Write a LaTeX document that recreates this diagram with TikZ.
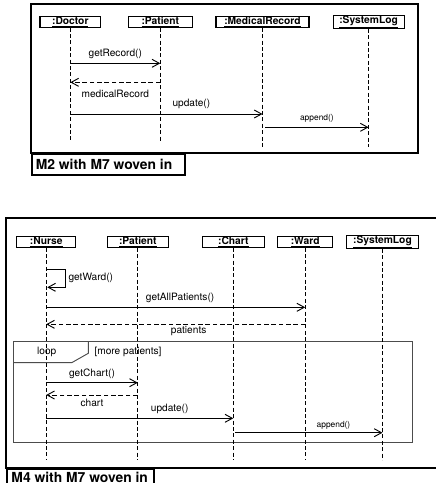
\documentclass[tikz,border=0pt]{standalone}
\usepackage{fontspec}
\setmainfont{TeX Gyre Heros}
\usetikzlibrary{arrows.meta}
\tikzset{
  head/.style={draw, line width=0.8pt, inner sep=0pt, minimum height=7.6pt,
    font=\bfseries\fontsize{7.7}{9}\selectfont},
  life/.style={line width=0.6pt, dash pattern=on 3pt off 1.8pt},
  msg/.style={line width=0.7pt, -{Straight Barb[length=5.5pt,width=6pt,line width=0.7pt]}},
  ret/.style={msg, dash pattern=on 3.5pt off 2pt},
  lbl/.style={inner sep=0pt, font=\fontsize{7.6}{9}\selectfont},
  slbl/.style={inner sep=0pt, font=\fontsize{6.3}{8}\selectfont},
  frame/.style={line width=1.5pt},
  tag/.style={draw, line width=1.2pt, inner ysep=0pt, anchor=north west,
    font=\bfseries\fontsize{10.4}{12}\selectfont},
  loopframe/.style={draw=black!70, line width=0.7pt}
}
\begin{document}
\begin{tikzpicture}[x=0.75pt, y=-0.75pt]
\clip (0,0) rectangle (436,483);
\fill[white] (0,0) rectangle (436,483);

% ---------- top diagram ----------
\draw[frame] (31,4.3) rectangle (417.7,153.3);
\node[tag, inner xsep=3pt, minimum height=15.7pt] (t1) at (31,153.3) {\makebox[109pt][l]{M2 with M7 woven in}};

\node[head, minimum width=45.5pt] (d) at (70.3,22) {\underline{:Doctor}};
\node[head, minimum width=48pt] (p) at (160.3,22) {\underline{:Patient}};
\node[head, minimum width=69.75pt] (m) at (262.5,22) {\underline{:MedicalRecord}};
\node[head, minimum width=53.25pt] (s) at (368.6,22) {\underline{:SystemLog}};

\coordinate (dE) at (70.3,142);
\coordinate (pE) at (160.3,142);
\coordinate (mE) at (262.5,147);
\coordinate (sE) at (368.6,147);
\draw[life] (d.south) -- (dE);
\draw[life] (p.south) -- (pE);
\draw[life] (m.south) -- (mE);
\draw[life] (s.south) -- (sE);

\draw[msg] (d.south |- 0,63.3) -- node[lbl, yshift=7pt]{getRecord()} (p.south |- 0,63.3);
\draw[ret] (p.south |- 0,82.3) -- node[lbl, yshift=-9pt]{medicalRecord} (d.south |- 0,82.3);
\draw[msg] (d.south |- 0,114) -- node[lbl, pos=0.63, yshift=7.3pt]{update()} (m.south |- 0,114);
\draw[msg] ([xshift=2pt]m.south |- 0,127.3) -- node[slbl, yshift=6.5pt]{append()} (s.south |- 0,127.3);

% ---------- bottom diagram ----------
\draw[frame] (6,218.3) rectangle (445,468.3);
\node[tag, inner xsep=3.5pt, minimum height=12pt] (t2) at (6,468.3) {\makebox[103.25pt][l]{M4 with M7 woven in}};

% loop fragment
\draw[loopframe] (13.5,341.7) rectangle (412.3,442.3);
\draw[loopframe] (88.3,341.7) -- (88.3,353.3) -- (71.7,362.7) -- (13.5,362.7);
\node[lbl] (lp) at (46.7,352.4) {loop};
\node[lbl, anchor=west] (gd) at (94.3,352) {[more patients]};

\node[head, minimum width=44.25pt] (n) at (46.2,242) {\underline{:Nurse}};
\node[head, minimum width=45.75pt] (bp) at (137.8,242) {\underline{:Patient}};
\node[head, minimum width=46.5pt] (c) at (233.3,242) {\underline{:Chart}};
\node[head, minimum width=41.5pt] (w) at (305.2,242) {\underline{:Ward}};
\node[head, minimum width=53.7pt] (bs) at (382.5,242) {\underline{:SystemLog}};

\coordinate (nE) at (46.2,460);
\coordinate (bpE) at (137.8,460);
\coordinate (cE) at (233.3,460);
\coordinate (wE) at (305.2,460);
\coordinate (bsE) at (382.5,460);
\draw[life] (n.south) -- (nE);
\draw[life] (bp.south) -- (bpE);
\draw[life] (c.south) -- (cE);
\draw[life] (w.south) -- (wE);
\draw[life] (bs.south) -- (bsE);

% self message
\coordinate (sw1) at (65.7,269);
\coordinate (sw2) at (65.7,287.3);
\draw[msg] (n.south |- 0,269) -- (sw1) -- (sw2) -- ([xshift=0.8pt]n.south |- 0,287.3);
\node[lbl, anchor=west] (gw) at (68.3,277.7) {getWard()};

\draw[msg] (n.south |- 0,307.3) -- node[lbl, pos=0.517, yshift=7.2pt]{getAllPatients()} (w.south |- 0,307.3);
\draw[ret] (w.south |- 0,324.3) -- node[lbl, pos=0.45, yshift=-5pt]{patients} (n.south |- 0,324.3);
\draw[msg] (n.south |- 0,382.7) -- node[lbl, yshift=7pt]{getChart()} (bp.south |- 0,382.7);
\draw[ret] (bp.south |- 0,395) -- node[lbl, yshift=-6.2pt]{chart} (n.south |- 0,395);
\draw[msg] (n.south |- 0,418.3) -- node[lbl, pos=0.66, yshift=6.8pt]{update()} (c.south |- 0,418.3);
\draw[msg] ([xshift=1.5pt]c.south |- 0,432.7) -- node[slbl, pos=0.667, yshift=5.8pt]{append()} (bs.south |- 0,432.7);
\end{tikzpicture}
\end{document}
